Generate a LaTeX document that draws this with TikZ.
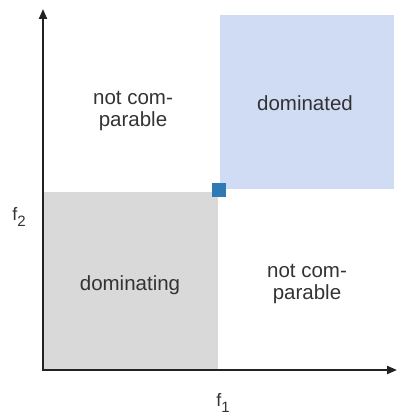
\documentclass[tikz,border=0pt]{standalone}
\usepackage{fontspec}
\setmainfont{Liberation Sans}
\usetikzlibrary{arrows.meta}
\definecolor{bluefill}{HTML}{CFDCF3}
\definecolor{grayfill}{HTML}{D9D9D9}
\definecolor{marker}{HTML}{2F7AB5}
\definecolor{axiscol}{HTML}{222222}
\definecolor{textcol}{HTML}{333333}
\tikzset{
  region/.style={draw=none, inner sep=0pt, anchor=north west},
  label/.style={text=textcol, font=\fontsize{20.5}{22}\selectfont, align=center, inner sep=0pt},
  axislabel/.style={text=textcol, font=\fontsize{18}{20}\selectfont, inner sep=0pt},
  axis/.style={draw=axiscol, line width=2pt, -{Triangle[length=10pt,width=8pt]}}
}
\begin{document}
\begin{tikzpicture}[x=1pt,y=-1pt]
\useasboundingbox (0,0) rectangle (398,417);
% regions
\node[region, fill=grayfill, minimum width=175pt, minimum height=178pt] (gray) at (43,192) {};
\node[region, fill=bluefill, minimum width=174pt, minimum height=174pt] (blue) at (220,15) {};
\node[fill=marker, minimum size=14pt, inner sep=0pt] (pt) at (219,190) {};
% axes
\coordinate (origin) at (43,370);
\coordinate (xend) at (397,370);
\coordinate (yend) at (43,9);
\draw[axis] ([xshift=-1pt]origin) -- (xend);
\draw[axis] ([yshift=1pt]origin) -- (yend);
% labels
\node[label] (nc1) at (133,111) {not com-\\parable};
\node[label] (dom) at (305,103) {dominated};
\node[label] (ding) at (130,285) {dominating};
\node[label] (nc2) at (307,284) {not com-\\parable};
\node[axislabel] (f1) at (223,403) {f\raisebox{-0.6ex}{\fontsize{15}{16}\selectfont 1}};
\node[axislabel] (f2) at (19,217) {f\raisebox{-0.6ex}{\fontsize{15}{16}\selectfont 2}};
\end{tikzpicture}
\end{document}
